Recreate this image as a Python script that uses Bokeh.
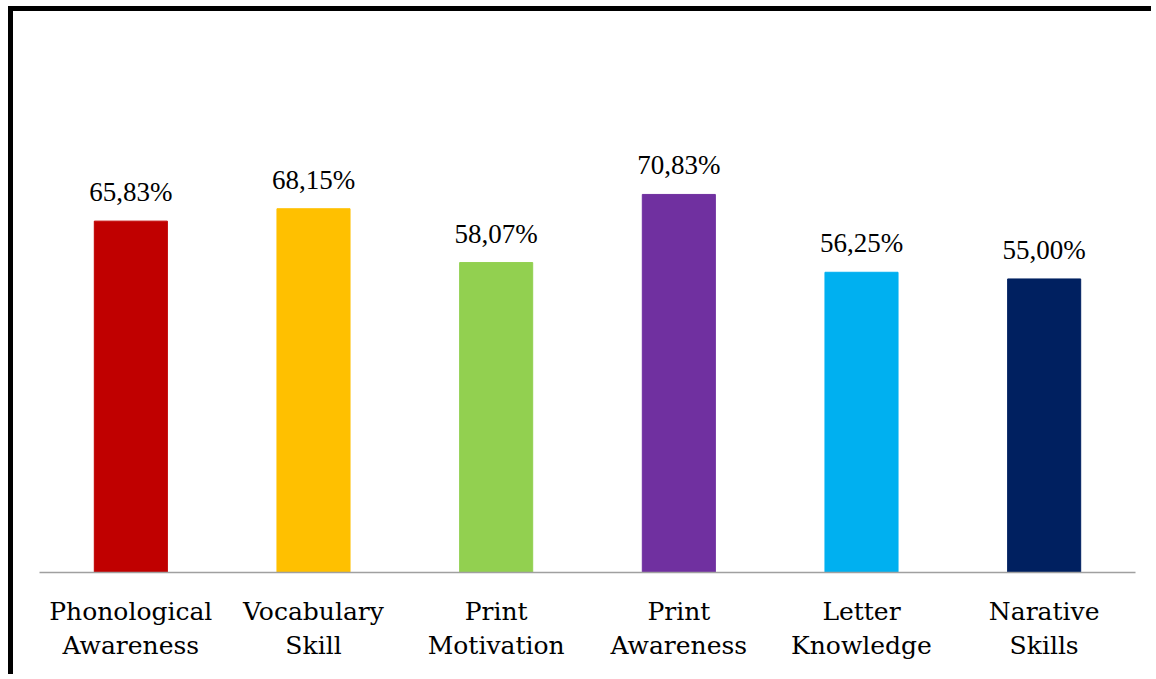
from bokeh.plotting import figure
from bokeh.models import ColumnDataSource, LabelSet, Range1d
from bokeh.embed import file_html
from bokeh.resources import INLINE

categories = ["Phonological\nAwareness", "Vocabulary\nSkill", "Print\nMotivation",
              "Print\nAwareness", "Letter\nKnowledge", "Narative\nSkills"]
values = [65.83, 68.15, 58.07, 70.83, 56.25, 55.00]
value_labels = ["65,83%", "68,15%", "58,07%", "70,83%", "56,25%", "55,00%"]
colors = ["#C00000", "#FFC000", "#92D050", "#7030A0", "#00B0F0", "#002060"]

FONT = "DejaVu Serif"

src = ColumnDataSource(dict(cat=categories, val=values, lab=value_labels, col=colors))

p = figure(x_range=categories, y_range=Range1d(0, 80), width=1143, height=668,
           output_backend="svg", toolbar_location=None,
           min_border_left=26, min_border_right=21, min_border_top=134, min_border_bottom=107)
p.styles = {"margin-left": "8px", "margin-top": "6px",
            "border-left": "5px solid black", "border-top": "5px solid black"}
p.x_range.range_padding = 0
p.vbar(x="cat", top="val", width=0.4, color="col", source=src)
p.add_layout(LabelSet(x="cat", y="val", text="lab", source=src, y_offset=20,
                      text_align="center", text_baseline="alphabetic",
                      text_font=FONT, text_font_size="27px", text_color="black"))
p.yaxis.visible = False
p.xgrid.visible = False
p.ygrid.visible = False
p.outline_line_color = None
p.xaxis.axis_line_color = "#a0a0a0"
p.xaxis.axis_line_width = 1.5
p.xaxis.major_tick_line_color = None
p.xaxis.minor_tick_line_color = None
p.xaxis.major_label_text_font = FONT
p.xaxis.major_label_text_font_size = "25px"
p.xaxis.major_label_text_line_height = 1.2
p.xaxis.major_label_text_color = "black"
p.xaxis.major_label_standoff = 18

open("out.html", "w").write(file_html(p, INLINE))
